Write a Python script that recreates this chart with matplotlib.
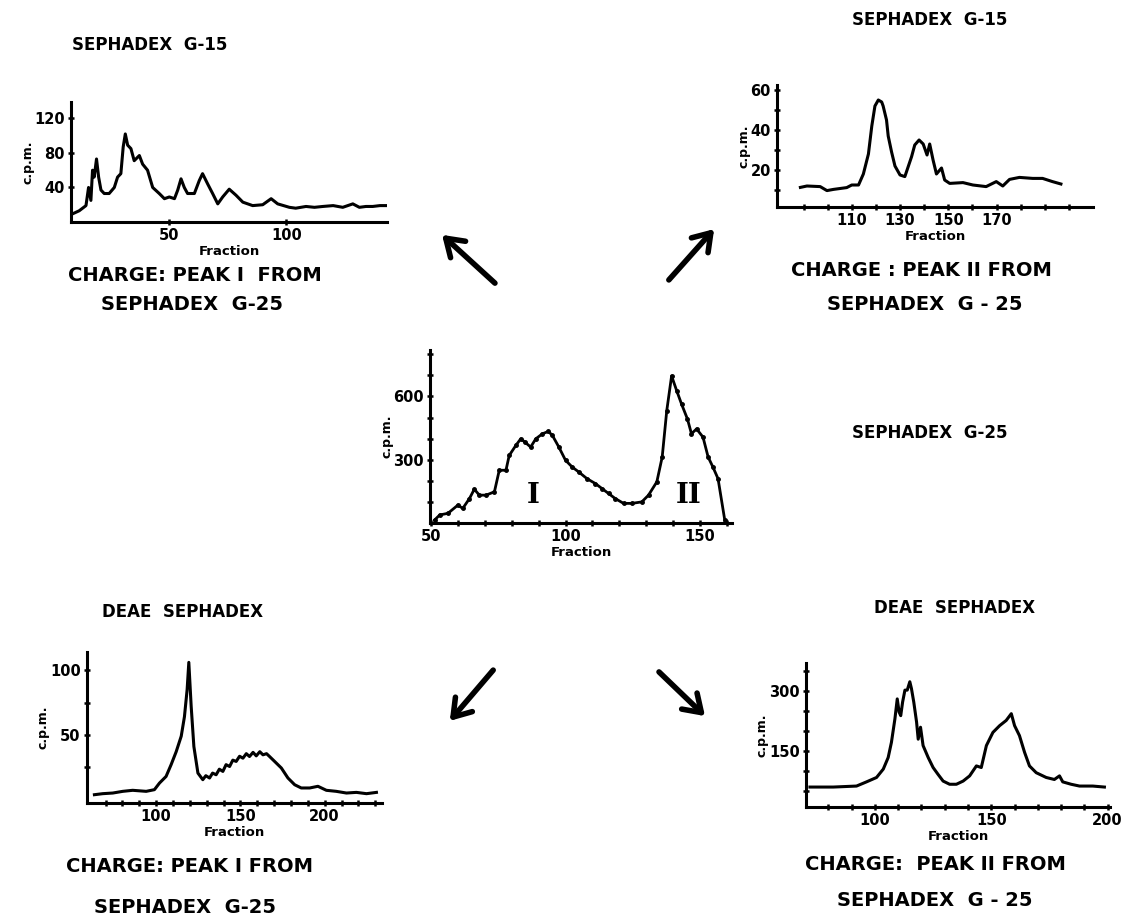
import numpy as np
import matplotlib
matplotlib.use("Agg")
import matplotlib.pyplot as plt
from matplotlib.patches import FancyArrowPatch

plt.rcParams['font.family'] = ['DejaVu Sans']
plt.rcParams['font.weight'] = 'bold'

# --- data ---
# Sephadex G-15, charge peak I
frac_g15_a = [8.7, 11.5, 14.4, 15.5, 16.5, 17.2, 17.9, 18.9, 19.8, 20.8, 22.2, 24.3, 26.5, 27.9,
              29.3, 30.3, 31.2, 32.2, 33.6, 35, 37.2, 38.6, 40.7, 42.9, 45.7, 47.9, 50, 52.2,
              53.6, 55, 56.4, 57.8, 60.7, 62.8, 64.2, 66.4, 68.5, 70.7, 72.8, 75.6, 78.5, 81.4,
              85.6, 89.9, 93.5, 96.3, 101.3, 104, 108.4, 112, 115.6, 120, 124.1, 128.4, 131.2,
              134, 136.9, 140, 142.6]
cpm_g15_a = [9.5, 13, 19, 40, 25, 60, 52, 73, 52, 37, 33, 33, 40, 52,
             56, 87, 102, 89, 85, 71, 77, 67, 60, 40, 33, 27, 29, 27,
             37, 50, 40, 33, 33, 48, 56, 44, 33, 21, 29, 38, 31, 23,
             19, 20, 27, 21, 17, 16, 18, 17, 18, 19, 17, 21, 17,
             18, 18, 19, 19]

# Sephadex G-15, charge peak II
frac_g15_b = [88.7, 91.4, 96.9, 99.7, 102.4, 107.9, 110, 112.8, 114.8, 116.9, 118.3, 119.6, 121,
              122.4, 123, 124.4, 125.1, 126.5, 127.9, 130, 132, 133.4, 134.8, 136.1, 137.9,
              139.6, 141.2, 142.3, 143.7, 145.1, 147.2, 148.5, 150.6, 156.1, 160.2, 165.7,
              169.9, 172.6, 175.4, 179.5, 185, 189.1, 193.2, 196.7]
cpm_g15_b = [11.3, 12, 11.7, 9.7, 10.3, 11.2, 12.5, 12.5, 18, 28, 42, 52, 55,
             54, 52, 45, 37, 29, 22, 17.5, 16.7, 21.7, 26.7, 32.5, 35,
             33, 27.5, 33, 25, 18, 21, 15, 13.3, 13.7, 12.5, 11.7,
             14.2, 12, 15.3, 16.3, 15.8, 15.8, 14.2, 13]

# Sephadex G-25
frac_g25 = [51.2, 53.1, 56.2, 59.9, 61.7, 64.2, 66, 67.9, 70.4, 73.5, 75.3, 77.8, 79, 81.5,
            83.3, 84.9, 87, 88.9, 91.4, 93.6, 95.1, 97.5, 100, 102.5, 104.9, 108, 111.1,
            113.6, 116, 118.5, 121.6, 124.7, 128.4, 130.9, 134, 136, 137.7, 139.5, 141.4,
            143.2, 145.4, 146.9, 148.8, 151.2, 153.1, 154.9, 156.8, 159.3]
cpm_g25 = [14, 38, 46, 85, 69, 116, 160, 132, 132, 148, 250, 250, 320, 368,
           399, 383, 360, 399, 423, 434, 415, 360, 297, 265, 242, 210, 187,
           163, 140, 116, 93, 93, 100, 132, 195, 313, 533, 697, 627,
           564, 493, 423, 446, 407, 313, 265, 210, 14]

# DEAE Sephadex, charge peak I
frac_deae_a = [63.4, 68.3, 74.3, 80.2, 86.1, 94.1, 99, 102, 105.9, 108.9, 111.9, 114.9, 116.8,
               118.4, 119.4, 120.8, 122.4, 124.8, 127.7, 129.5, 131.7, 133.5, 135.6, 137.5,
               139.6, 141.5, 143.6, 145.5, 147.5, 149.5, 151.5, 153.5, 155.4, 157.5, 159.4,
               161.5, 163.4, 165.5, 167.3, 170.3, 174.3, 178.2, 182.2, 186.1, 191.1,
               196, 201, 206.9, 212.9, 218.8, 224.8, 230.7]
cpm_deae_a = [3.8, 4.6, 5.1, 6.4, 7.2, 6.4, 7.7, 12.8, 17.9, 27, 37, 49, 64,
              85, 106, 72, 41, 20.5, 15.4, 18.5, 16.7, 20.5, 19.2, 23.5,
              21.8, 27, 25.6, 30.5, 29.5, 33.5, 32, 35.5, 33.3, 36.5, 33.8,
              37, 34.6, 35.5, 33.3, 29.5, 24.4, 16.7, 11.5, 9, 9,
              10.3, 7.2, 6.4, 5.1, 5.6, 4.6, 5.6]

# DEAE Sephadex, charge peak II
frac_deae_b = [72.1, 82.1, 92.1, 96.4, 100.7, 103.6, 105.7, 107.1, 108.6, 109.6, 110.4, 111.1,
               111.9, 112.9, 113.9, 115, 115.7, 116.7, 117.9, 118.6, 119.6, 120.7, 122.9, 125,
               127.1, 129.3, 132.1, 135, 137.9, 140.7, 143.6, 145.7, 147.9, 150.7, 153.6,
               156.4, 158.6, 160, 162.1, 164.3, 166.4, 169.3, 173.6, 177.1, 179.3, 180.7,
               184.3, 187.9, 193.6, 198.6]
cpm_deae_b = [59, 59, 61.5, 72, 83, 104, 133, 171, 230, 280, 247, 238,
              272, 302, 302, 323, 306, 272, 222, 179, 209, 163, 133, 108,
              91, 74, 66, 66, 74, 87, 112, 108, 163, 196, 213,
              226, 243, 213, 188, 146, 112, 95, 83, 78, 87, 72,
              66, 61.5, 61.5, 59]

W, H = 1128, 922
fig = plt.figure(figsize=(W / 100, H / 100), dpi=100)


def panel(l, r, t, b):
    ax = fig.add_axes([l / W, 1 - b / H, (r - l) / W, (b - t) / H])
    for s in ['top', 'right']:
        ax.spines[s].set_visible(False)
    for s in ['left', 'bottom']:
        ax.spines[s].set_linewidth(2.2)
    ax.tick_params(direction='inout', length=5, width=1.8, labelsize=10.5, pad=2)
    ax.set_xlabel('Fraction', fontsize=9.5, fontweight='bold', labelpad=1)
    ax.set_ylabel('c.p.m.', fontsize=9, fontweight='bold', labelpad=0)
    return ax


def set_ticks(ax, xmaj, xall, ymaj, yall):
    ax.set_xticks(xall)
    ax.set_xticklabels([str(v) if v in xmaj else '' for v in xall])
    ax.set_yticks(yall)
    ax.set_yticklabels([str(v) if v in ymaj else '' for v in yall])


# top left
ax1 = panel(71, 387, 102, 222)
ax1.plot(frac_g15_a, cpm_g15_a, color='black', lw=2.2)
ax1.set_xlim(8, 143)
ax1.set_ylim(0, 139)
set_ticks(ax1, [50, 100], [50, 100], [40, 80, 120], [40, 80, 120])

# top right
ax2 = panel(777, 1093, 85, 207)
ax2.plot(frac_g15_b, cpm_g15_b, color='black', lw=2.2)
ax2.set_xlim(79, 210)
ax2.set_ylim(1.5, 62.5)
set_ticks(ax2, [110, 130, 150, 170], list(range(90, 210, 10)), [20, 40, 60], [10, 20, 30, 40, 50, 60])

# centre
ax3 = panel(430, 732, 350, 523)
ax3.plot(frac_g25, cpm_g25, color='black', lw=2.0, marker='o', markersize=2.5)
ax3.set_xlim(49.5, 162)
ax3.set_ylim(0, 820)
set_ticks(ax3, [50, 100, 150], list(range(50, 161, 10)), [300, 600], list(range(100, 801, 100)))
ax3.text(88, 130, 'I', fontsize=20, fontweight='bold', family='DejaVu Serif', ha='center', va='center')
ax3.text(146, 130, 'II', fontsize=20, fontweight='bold', family='DejaVu Serif', ha='center', va='center')

# bottom left
ax4 = panel(87, 382, 652, 803)
ax4.plot(frac_deae_a, cpm_deae_a, color='black', lw=2.2)
ax4.set_xlim(59, 234)
ax4.set_ylim(-2.6, 114)
set_ticks(ax4, [100, 150, 200], list(range(70, 231, 10)), [50, 100], [25, 50, 75, 100])

# bottom right
ax5 = panel(806, 1110, 663, 807)
ax5.plot(frac_deae_b, cpm_deae_b, color='black', lw=2.2)
ax5.set_xlim(70.4, 201)
ax5.set_ylim(9, 370)
set_ticks(ax5, [100, 150, 200], list(range(80, 201, 10)), [150, 300], [50, 100, 150, 200, 250, 300, 350])

# headings and captions
def label(x, y, s, size):
    fig.text(x / W, 1 - y / H, s, ha='center', va='center', fontsize=size, fontweight='bold')

label(150, 45, 'SEPHADEX  G-15', 12)
label(930, 20, 'SEPHADEX  G-15', 12)
label(195, 275, 'CHARGE: PEAK I  FROM', 14)
label(192, 305, 'SEPHADEX  G-25', 14)
label(921, 271, 'CHARGE : PEAK II FROM', 14)
label(925, 304, 'SEPHADEX  G - 25', 14)
label(930, 433, 'SEPHADEX  G-25', 12)
label(183, 612, 'DEAE  SEPHADEX', 12)
label(955, 608, 'DEAE  SEPHADEX', 12)
label(190, 866, 'CHARGE: PEAK I FROM', 14)
label(185, 907, 'SEPHADEX  G-25', 14)
label(935, 864, 'CHARGE:  PEAK II FROM', 14)
label(935, 900, 'SEPHADEX  G - 25', 14)

# arrows
for tail, head in [((497, 285), (440, 233)), ((667, 282), (716, 227)),
                   ((495, 668), (448, 723)), ((657, 670), (707, 718))]:
    arr = FancyArrowPatch((tail[0] / W, 1 - tail[1] / H), (head[0] / W, 1 - head[1] / H),
                          transform=fig.transFigure, arrowstyle='->,head_length=0.6,head_width=0.4',
                          mutation_scale=20, lw=4, color='black', capstyle='round')
    fig.add_artist(arr)

fig.savefig('out.png', dpi=100)
